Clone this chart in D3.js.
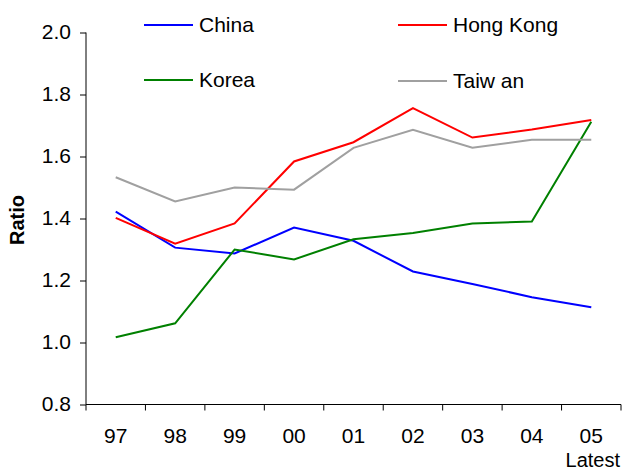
<!DOCTYPE html>
<html><head><meta charset="utf-8">
<script src="https://cdn.jsdelivr.net/npm/d3@7"></script>
<style>body{margin:0;background:#fff}svg{display:block}text{font-family:"Liberation Sans",Arial,sans-serif}</style>
</head><body><svg id="c" width="624" height="472"></svg>
<script>
const categories = ["97","98","99","00","01","02","03","04","05"];
const china    = [1.422,1.306,1.287,1.371,1.328,1.229,1.189,1.146,1.114];
const hongKong = [1.402,1.319,1.384,1.584,1.646,1.756,1.661,1.687,1.718];
const korea    = [1.017,1.062,1.300,1.268,1.333,1.353,1.384,1.390,1.712];
const taiwan   = [1.533,1.455,1.500,1.493,1.628,1.686,1.628,1.654,1.654];
const seriesNames = ["China","Hong Kong","Korea","Taiw an"];
const yTicks = [0.8,1.0,1.2,1.4,1.6,1.8,2.0];
const series = [
  {name: seriesNames[0], values: china, color: "#0000ff"},
  {name: seriesNames[1], values: hongKong, color: "#ff0000"},
  {name: seriesNames[2], values: korea, color: "#008000"},
  {name: seriesNames[3], values: taiwan, color: "#a0a0a0"}
];
const svg = d3.select("#c");
const L = 86, R = 621, T = 32.5, B = 404.5;
const x = d3.scaleBand().domain(categories).range([L, R]);
const y = d3.scaleLinear().domain([0.8, 2.0]).range([B, T]);

// y axis
const yAxis = svg.append("g").attr("transform", `translate(${L},0)`)
  .call(d3.axisLeft(y).tickValues(yTicks).tickFormat(d3.format(".1f")).tickSize(6).tickPadding(9));
yAxis.select(".domain").attr("d", `M0,${T}V${B}`).attr("stroke", "#000");
yAxis.selectAll("text").attr("font-size", 21).attr("fill", "#000").attr("dy", "0.28em");
yAxis.selectAll(".tick line").attr("stroke", "#000");

// x axis
const xg = svg.append("g").attr("transform", `translate(0,${B})`);
xg.append("line").attr("x1", L).attr("x2", R).attr("stroke", "#000");
const bounds = categories.map(c => x(c)).concat([R]);
xg.selectAll("line.t").data(bounds).join("line").attr("class","t")
  .attr("x1", d => d).attr("x2", d => d).attr("y1", 0).attr("y2", 6).attr("stroke", "#000");
xg.selectAll("text").data(categories).join("text")
  .attr("x", d => x(d) + x.bandwidth()/2).attr("y", 38)
  .attr("text-anchor", "middle").attr("font-size", 21).text(d => d);
svg.append("text").attr("x", R - 1).attr("y", 467).attr("text-anchor", "end")
  .attr("font-size", 20).text("Latest");

// y title
svg.append("text").attr("transform", "translate(24,220) rotate(-90)")
  .attr("text-anchor", "middle").attr("font-size", 20).attr("font-weight", "bold").text("Ratio");

// lines
const line = d3.line().x((d, i) => x(categories[i]) + x.bandwidth()/2).y(d => y(d));
svg.selectAll("path.s").data(series).join("path").attr("class", "s")
  .attr("d", d => line(d.values)).attr("fill", "none")
  .attr("stroke", d => d.color).attr("stroke-width", 2);

// legend
const legPos = [[144,25],[398,25],[144,80],[398,81]];
series.forEach((s, i) => {
  const [lx, ly] = legPos[i];
  svg.append("line").attr("x1", lx).attr("x2", lx + 49).attr("y1", ly).attr("y2", ly)
    .attr("stroke", s.color).attr("stroke-width", 2);
  svg.append("text").attr("x", lx + 55).attr("y", ly + 7).attr("font-size", 21).text(s.name);
});
</script></body></html>
